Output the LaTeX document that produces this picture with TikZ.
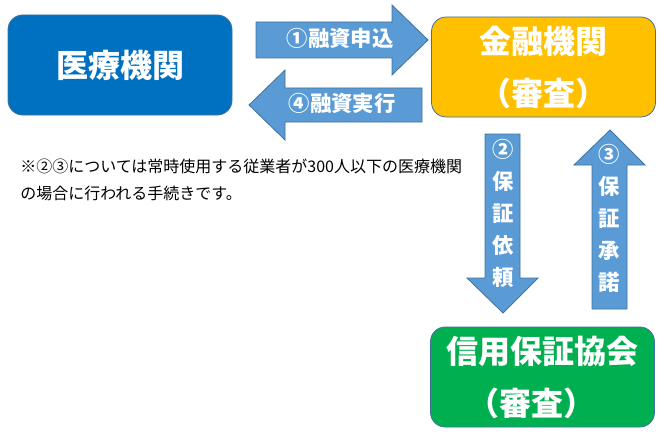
\documentclass[tikz,border=0pt]{standalone}
\usepackage{fontspec}
\newfontfamily\jp{Noto Sans CJK JP}
\usetikzlibrary{positioning}
\definecolor{medblue}{HTML}{0070C0}
\definecolor{bankgold}{HTML}{FFC000}
\definecolor{guargreen}{HTML}{00B050}
\definecolor{arrowfill}{HTML}{5B9BD5}
\definecolor{arrowline}{HTML}{41719C}
\tikzset{
  party/.style={draw=arrowline, line width=0.6pt, rounded corners=11pt, text=white,
    font=\jp\bfseries\fontsize{24}{39}\selectfont, align=center,
    minimum width=168pt, minimum height=75pt, inner sep=0pt},
  blockarrow/.style={fill=arrowfill, draw=arrowline, line width=0.6pt},
  arrowtext/.style={font=\jp\bfseries\fontsize{16}{24}\selectfont, text=white,
    inner sep=0pt, align=center},
}

\begin{document}
\begin{tikzpicture}[x=0.75pt, y=-0.75pt]
\useasboundingbox (0,0) rectangle (664,435);

\node[party, fill=medblue] (clinic) at (120,65) {医療機関};
\node[party, fill=bankgold] (bank) at (543.5,67) {金融機関\\（審査）};
\node[party, fill=guargreen] (guarantor) at (542.5,377) {信用保証協会\\\hspace*{-16pt}（審査）};

% loan application / loan payout
\draw[blockarrow] (256,22) -- (392,22) -- (392,5) -- (428,40) -- (392,75) -- (392,58) -- (256,58) -- cycle;
\node[arrowtext] (apply) at (340,38) {①融資申込};
\draw[blockarrow] (422,88) -- (285,88) -- (285,70) -- (249,105) -- (285,140) -- (285,122) -- (422,122) -- cycle;
\node[arrowtext] (payout) at (342,103) {④融資実行};

% guarantee request / guarantee approval
\draw[blockarrow] (485,134) -- (520,134) -- (520,278) -- (538,278) -- (503,313) -- (467,278) -- (485,278) -- cycle;
\node[arrowtext] (request) at (503,213) {②\\保\\証\\依\\頼};
\draw[blockarrow] (592,309) -- (627,309) -- (627,165) -- (645,165) -- (610,130) -- (574,165) -- (592,165) -- cycle;
\node[arrowtext] (approve) at (609.5,218) {③\\保\\証\\承\\諾};

\node[font=\jp\fontsize{12}{20.5}\selectfont, align=left, anchor=west, inner sep=0pt] (note)
  at (20,180) {※②③については常時使用する従業者が300人以下の医療機関\\の場合に行われる手続きです。};

\end{tikzpicture}
\end{document}
